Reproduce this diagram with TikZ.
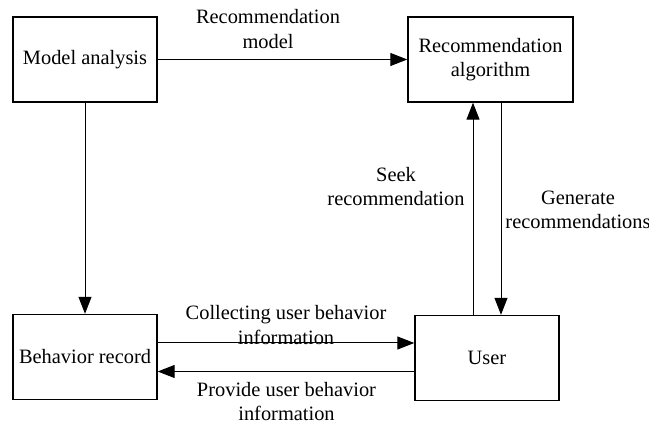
\documentclass[tikz,border=0pt]{standalone}
\usepackage{fontspec}
\setmainfont{Liberation Serif}
\usetikzlibrary{arrows.meta}

\tikzset{
  block/.style={draw, line width=0.7pt, minimum width=72pt, minimum height=42.5pt, inner sep=2pt, align=center},
  flow/.style={-{Triangle[length=8.5pt,width=6.5pt]}, line width=0.5pt},
  lbl/.style={align=center, inner sep=0pt}
}

\begin{document}
\begin{tikzpicture}[x=0.5pt,y=-0.5pt,font=\fontsize{10.2}{12.25}\selectfont]
    \useasboundingbox (0,0) rectangle (649,426);

    % Blocks
    \node[block] (model) at (85,59.5) {Model analysis};
    \node[block, minimum width=82.5pt] (algo) at (490.5,59.5) {Recommendation\\algorithm};
    \node[block] (record) at (85,357) {Behavior record};
    \node[block] (user) at (487,358) {User};

    % Connectors
    \draw[flow] (model) -- (algo);
    \draw[flow] (model) -- (record);
    \draw[flow] ([xshift=-7pt]user.north) -- ([xshift=-7pt]user.north |- algo.south);
    \draw[flow] ([xshift=7pt]user.north |- algo.south) -- ([xshift=7pt]user.north);
    \draw[flow] ([yshift=7pt]record.east) -- ([yshift=7pt]record.east -| user.west);
    \draw[flow] ([yshift=-7.25pt]record.east -| user.west) -- ([yshift=-7.25pt]record.east);

    % Labels
    \node[lbl] (lmodel) at (268,29) {Recommendation\\model};
    \node[lbl] (lseek) at (396,186.5) {Seek\\recommendation};
    \node[lbl] (lgen) at (578,210) {Generate\\recommendations};
    \node[lbl] (lcollect) at (286,325) {Collecting user behavior\\information};
    \node[lbl] (lprovide) at (286.5,401.5) {Provide user behavior\\information};
\end{tikzpicture}
\end{document}
